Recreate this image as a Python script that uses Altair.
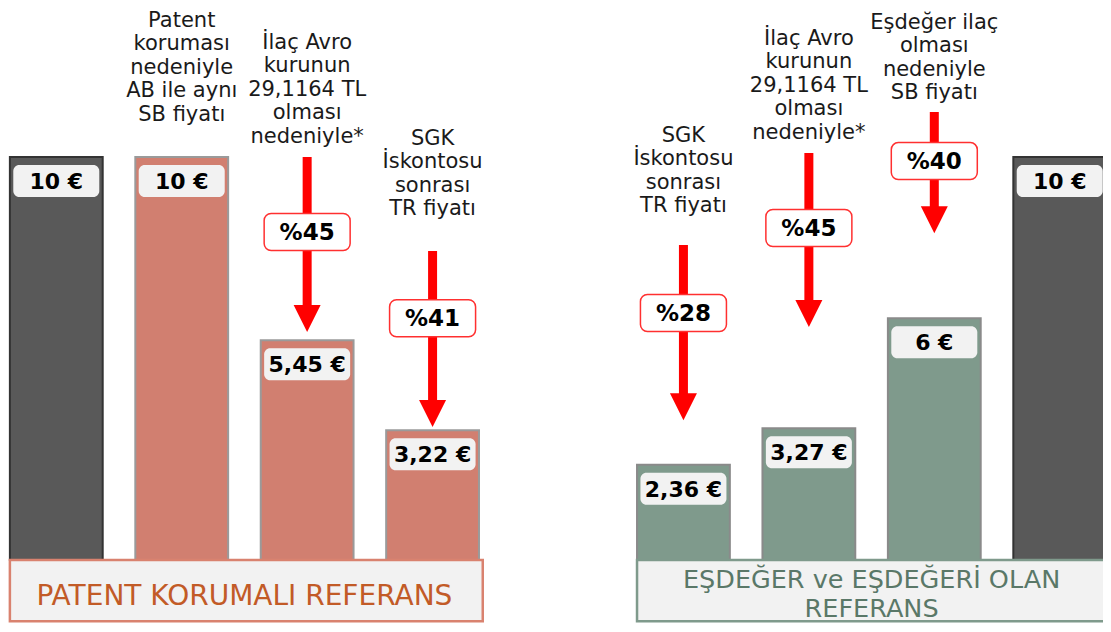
import altair as alt
import pandas as pd

# ---------------- data ----------------
bar_labels = ["10 €", "10 €", "5,45 €", "3,22 €", "2,36 €", "3,27 €", "6 €", "10 €"]
bar_values = [10, 10, 5.45, 3.22, 2.36, 3.27, 6, 10]
bar_kinds = ["Referans", "Patent", "Patent", "Patent", "Eşdeğer", "Eşdeğer", "Eşdeğer", "Referans"]
bar_groups = ["left", "left", "left", "left", "right", "right", "right", "right"]
notes = [
    None,
    "Patent\nkoruması\nnedeniyle\nAB ile aynı\nSB fiyatı",
    "İlaç Avro\nkurunun\n29,1164 TL\nolması\nnedeniyle*",
    "SGK\nİskontosu\nsonrası\nTR fiyatı",
    "SGK\nİskontosu\nsonrası\nTR fiyatı",
    "İlaç Avro\nkurunun\n29,1164 TL\nolması\nnedeniyle*",
    "Eşdeğer ilaç\nolması\nnedeniyle\nSB fiyatı",
    None,
]
discounts = [None, None, "%45", "%41", "%28", "%45", "%40", None]
group_names = ["left", "right"]
group_titles = ["PATENT KORUMALI REFERANS", "EŞDEĞER ve EŞDEĞERİ OLAN\nREFERANS"]

# ---------------- styles ----------------
kind_fill = {"Referans": "#595959", "Patent": "#d17f70", "Eşdeğer": "#7f9a8c"}
kind_stroke = {"Referans": "#333333", "Patent": "#9a9a9a", "Eşdeğer": "#8a8a8a"}
group_stroke = {"left": "#d9826f", "right": "#7f9a8c"}
group_text = {"left": "#c25b27", "right": "#5a7868"}
group_font = {"left": 28, "right": 25.5}

# ---------------- layout (chart units; y on the price scale) ----------------
note_bottom = [None, 10.80, 10.25, 8.46, 8.53, 10.35, 11.34, None]
arrow_from = [None, None, 10.0, 7.67, 7.82, 10.10, 11.12, None]
arrow_to = [None, None, 5.66, 3.30, 3.47, 5.78, 8.11, None]
badge_at = [None, None, 8.14, 6.00, 6.13, 8.24, 9.90, None]

W, H = 1095, 616
x_dom = [-0.385, 8.345]
y_dom = [-1.59, 13.70]
px_x = W / (x_dom[1] - x_dom[0])
px_y = H / (y_dom[1] - y_dom[0])
NOTE_LH = 23.5
TITLE_LH = 29

xs = alt.Scale(domain=x_dom, nice=False, zero=False)
ys = alt.Scale(domain=y_dom, nice=False, zero=False)

slots = [i + (1 if g == "right" else 0) for i, g in enumerate(bar_groups)]
half_bar = 0.37

bars_df = pd.DataFrame({
    "slot": slots, "value": bar_values, "label": bar_labels, "kind": bar_kinds,
})
bars_df["fillc"] = bars_df["kind"].map(kind_fill)
bars_df["strokec"] = bars_df["kind"].map(kind_stroke)
bars_df["lo"] = bars_df["slot"] - half_bar
bars_df["hi"] = bars_df["slot"] + half_bar
bars_df["base"] = 0.0
bw, bh, gap = 86 / px_x, 32 / px_y, 8 / px_y
bars_df["lb_x1"] = bars_df["slot"] - bw / 2
bars_df["lb_x2"] = bars_df["slot"] + bw / 2
bars_df["lb_y1"] = bars_df["value"] - gap
bars_df["lb_y2"] = bars_df["value"] - gap - bh
bars_df["lb_yc"] = bars_df["value"] - gap - bh / 2

notes_df = pd.DataFrame({"slot": slots, "note": notes, "yb": note_bottom}).dropna()
# vega places the first line at y: shift so the last line ends at note_bottom
notes_df["y"] = [yb + (n.count("\n")) * NOTE_LH / px_y for yb, n in zip(notes_df["yb"], notes_df["note"])]

arr_df = pd.DataFrame({"slot": slots, "y1": arrow_from, "tip": arrow_to,
                       "badge": badge_at, "pct": discounts}).dropna()
arr_df["y2"] = arr_df["tip"] + 16 / px_y
pw, ph = 86 / px_x, 37 / px_y
arr_df["b_x1"] = arr_df["slot"] - pw / 2
arr_df["b_x2"] = arr_df["slot"] + pw / 2
arr_df["b_y1"] = arr_df["badge"] + ph / 2
arr_df["b_y2"] = arr_df["badge"] - ph / 2

grp_rows = []
for g, t in zip(group_names, group_titles):
    s = [sl for sl, gg in zip(slots, bar_groups) if gg == g]
    lo, hi = min(s) - half_bar, max(s) + half_bar + 0.03
    nl = t.count("\n")
    grp_rows.append({"group": g, "title": t, "x1": lo, "x2": hi,
                     "xc": (lo + max(s) + half_bar) / 2,
                     "yc": (-0.93 if nl == 0 else -0.86) + nl * TITLE_LH / 2 / px_y,
                     "strokec": group_stroke[g], "textc": group_text[g],
                     "fs": group_font[g]})
grp_df = pd.DataFrame(grp_rows)
grp_df["y1"] = 0.0
grp_df["y2"] = -1.52

FONT = "DejaVu Sans"

bars = alt.Chart(bars_df).mark_bar(strokeWidth=2).encode(
    x=alt.X("lo:Q", scale=xs, axis=None), x2="hi:Q",
    y=alt.Y("value:Q", scale=ys, axis=None), y2="base:Q",
    fill=alt.Fill("fillc:N", scale=None),
    stroke=alt.Stroke("strokec:N", scale=None),
)

badges = alt.Chart(bars_df).mark_rect(cornerRadius=6, fill="#f2f2f2").encode(
    x=alt.X("lb_x1:Q", scale=xs, axis=None), x2="lb_x2:Q",
    y=alt.Y("lb_y1:Q", scale=ys, axis=None), y2="lb_y2:Q",
)
badge_txt = alt.Chart(bars_df).mark_text(
    font=FONT, fontSize=22, fontWeight="bold", color="#000000", baseline="middle", dy=1
).encode(
    x=alt.X("slot:Q", scale=xs, axis=None),
    y=alt.Y("lb_yc:Q", scale=ys, axis=None),
    text="label:N",
)

boxes = alt.Chart(grp_df).mark_rect(fill="#f2f2f2", strokeWidth=2.5).encode(
    x=alt.X("x1:Q", scale=xs, axis=None), x2="x2:Q",
    y=alt.Y("y1:Q", scale=ys, axis=None), y2="y2:Q",
    stroke=alt.Stroke("strokec:N", scale=None),
)
box_txt = alt.Chart(grp_df).mark_text(
    font=FONT, baseline="middle", lineBreak="\n", lineHeight=TITLE_LH
).encode(
    x=alt.X("xc:Q", scale=xs, axis=None),
    y=alt.Y("yc:Q", scale=ys, axis=None),
    text="title:N",
    color=alt.Color("textc:N", scale=None),
    size=alt.Size("fs:Q", scale=None),
)

shafts = alt.Chart(arr_df).mark_rule(color="#ff0000", strokeWidth=9, strokeCap="butt").encode(
    x=alt.X("slot:Q", scale=xs, axis=None),
    y=alt.Y("y1:Q", scale=ys, axis=None), y2="y2:Q",
)
heads = alt.Chart(arr_df).mark_point(
    shape="M-1,-2L1,-2L0,0Z", size=729, filled=True, color="#ff0000", opacity=1, strokeWidth=0
).encode(
    x=alt.X("slot:Q", scale=xs, axis=None),
    y=alt.Y("tip:Q", scale=ys, axis=None),
)
pct_box = alt.Chart(arr_df).mark_rect(
    cornerRadius=7, fill="#ffffff", stroke="#ff3030", strokeWidth=1.5
).encode(
    x=alt.X("b_x1:Q", scale=xs, axis=None), x2="b_x2:Q",
    y=alt.Y("b_y1:Q", scale=ys, axis=None), y2="b_y2:Q",
)
pct_txt = alt.Chart(arr_df).mark_text(
    font=FONT, fontSize=23, fontWeight="bold", color="#000000", baseline="middle", dy=1
).encode(
    x=alt.X("slot:Q", scale=xs, axis=None),
    y=alt.Y("badge:Q", scale=ys, axis=None),
    text="pct:N",
)

note_txt = alt.Chart(notes_df).mark_text(
    font=FONT, fontSize=21, color="#1a1a1a", baseline="bottom", lineBreak="\n", lineHeight=NOTE_LH
).encode(
    x=alt.X("slot:Q", scale=xs, axis=None),
    y=alt.Y("y:Q", scale=ys, axis=None),
    text="note:N",
)

chart = alt.layer(
    bars, boxes, box_txt, badges, badge_txt, shafts, heads, pct_box, pct_txt, note_txt
).properties(
    width=W, height=H, padding=0, background="#ffffff",
    autosize=alt.AutoSizeParams(type="none")
).configure_view(strokeWidth=0)

chart.save("out.html", embed_options={"renderer": "svg", "actions": False})
